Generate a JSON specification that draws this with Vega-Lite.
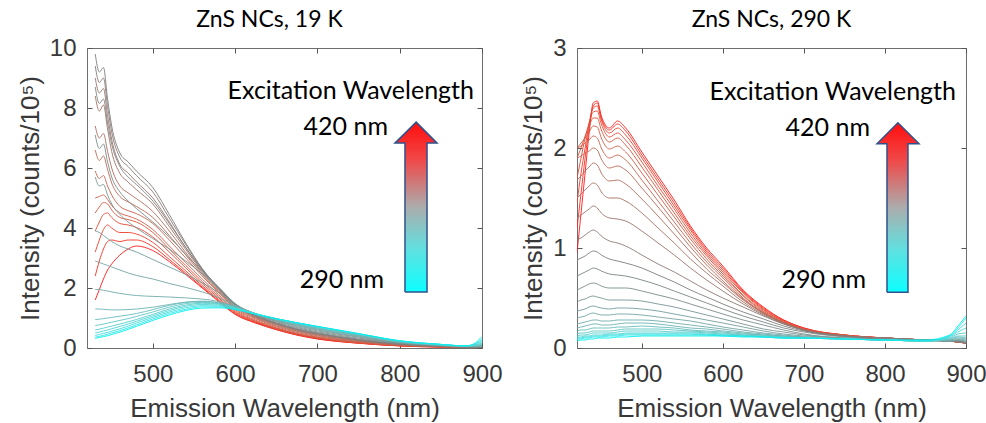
{
  "$schema": "https://vega.github.io/schema/vega-lite/v6.json",
  "background": "white",
  "padding": {"left": 16, "top": 8, "right": 0, "bottom": 0},
  "autosize": {"type": "pad"},
  "spacing": 17,
  "config": {
    "view": {"stroke": "#6e6e6e", "strokeWidth": 1},
    "axis": {
      "labelFont": "Liberation Sans", "labelFontSize": 24, "labelColor": "#383838",
      "titleFont": "Liberation Sans", "titleFontSize": 26, "titleColor": "#383838", "titleFontWeight": "normal",
      "domain": false, "grid": false, "tickColor": "#555555", "tickSize": -5,
      "labelFlush": false, "labelOverlap": false
    },
    "axisX": {"labelPadding": 19, "titlePadding": 9},
    "axisY": {"labelPadding": 16, "titlePadding": 6},
    "title": {"font": "Lato", "fontSize": 23, "fontWeight": "normal", "color": "#000000", "offset": 4}
  },
  "datasets": {
    "cold": [
      {"ex":420,"w":[430,435,440,445,450,460,470,480,500,520,540,560,580,600,625,650,675,700,750,800,850,880,890,900],"y":[1.6,1.95,2.3,2.6,2.8,3.1,3.3,3.4,3.25,2.88,2.45,2.0,1.55,1.12,0.83,0.61,0.43,0.3,0.16,0.07,0.03,0.02,0.02,0.02]},
      {"ex":415,"w":[430,435,440,445,450,460,470,480,500,520,540,560,580,600,625,650,675,700,750,800,850,880,890,900],"y":[2.4,2.9,3.3,3.55,3.6,3.55,3.6,3.6,3.38,2.95,2.5,2.03,1.58,1.14,0.84,0.62,0.44,0.31,0.16,0.07,0.03,0.02,0.02,0.02]},
      {"ex":410,"w":[430,435,440,445,450,460,470,480,500,520,540,560,580,600,625,650,675,700,750,800,850,880,890,900],"y":[3.2,3.6,3.95,4.1,4.0,3.85,3.85,3.8,3.52,3.05,2.57,2.08,1.62,1.17,0.86,0.63,0.45,0.32,0.17,0.08,0.04,0.02,0.02,0.02]},
      {"ex":405,"w":[430,435,440,445,450,460,470,480,500,520,540,560,580,600,625,650,675,700,750,800,850,880,890,900],"y":[3.9,4.2,4.45,4.5,4.35,4.15,4.1,4.02,3.7,3.2,2.67,2.15,1.67,1.2,0.88,0.64,0.46,0.33,0.17,0.08,0.04,0.03,0.02,0.02]},
      {"ex":400,"w":[430,435,440,445,450,460,470,480,500,520,540,560,580,600,625,650,675,700,750,800,850,880,890,900],"y":[4.5,4.7,4.85,4.8,4.6,4.35,4.28,4.2,3.85,3.3,2.75,2.22,1.72,1.24,0.9,0.66,0.47,0.34,0.18,0.08,0.04,0.03,0.02,0.02]},
      {"ex":395,"w":[430,435,440,445,450,460,470,480,500,520,540,560,580,600,625,650,675,700,750,800,850,880,890,900],"y":[5.0,5.05,5.1,4.95,4.75,4.5,4.4,4.3,3.95,3.4,2.85,2.3,1.78,1.28,0.93,0.68,0.49,0.36,0.19,0.09,0.04,0.03,0.02,0.02]},
      {"ex":390,"w":[430,435,440,445,450,460,470,480,500,520,540,560,580,600,625,650,675,700,750,800,850,880,890,900],"y":[5.9,5.65,5.75,5.4,5.1,4.72,4.58,4.48,4.15,3.6,3.0,2.4,1.84,1.32,0.97,0.71,0.52,0.38,0.21,0.1,0.05,0.03,0.02,0.02]},
      {"ex":385,"w":[430,435,440,445,450,460,470,480,500,520,540,560,580,600,625,650,675,700,750,800,850,880,890,900],"y":[6.6,6.25,6.4,5.95,5.5,5.05,4.87,4.72,4.35,3.75,3.1,2.45,1.88,1.36,1.0,0.74,0.55,0.41,0.22,0.1,0.05,0.03,0.03,0.02]},
      {"ex":380,"w":[430,435,440,445,450,460,470,480,500,520,540,560,580,600,625,650,675,700,750,800,850,880,890,900],"y":[7.4,7.0,7.15,6.55,6.0,5.4,5.17,4.98,4.55,3.9,3.18,2.5,1.92,1.39,1.02,0.77,0.57,0.43,0.24,0.11,0.05,0.03,0.03,0.02]},
      {"ex":375,"w":[430,435,440,445,450,460,470,480,500,520,540,560,580,600,625,650,675,700,750,800,850,880,890,900],"y":[8.4,7.9,8.1,7.3,6.55,5.82,5.53,5.28,4.8,4.05,3.28,2.55,1.95,1.42,1.04,0.79,0.59,0.45,0.25,0.12,0.05,0.03,0.03,0.03]},
      {"ex":370,"w":[430,435,440,445,450,460,470,480,500,520,540,560,580,600,625,650,675,700,750,800,850,880,890,900],"y":[9.0,8.5,8.65,7.75,6.95,6.12,5.83,5.54,5.0,4.2,3.35,2.6,1.98,1.44,1.06,0.81,0.61,0.47,0.26,0.12,0.06,0.04,0.03,0.03]},
      {"ex":365,"w":[430,435,440,445,450,460,470,480,500,520,540,560,580,600,625,650,675,700,750,800,850,880,890,900],"y":[9.4,8.85,9.0,8.05,7.2,6.35,6.05,5.75,5.2,4.33,3.45,2.63,2.0,1.46,1.08,0.83,0.63,0.49,0.28,0.13,0.06,0.04,0.04,0.03]},
      {"ex":360,"w":[430,435,440,445,450,460,470,480,500,520,540,560,580,600,625,650,675,700,750,800,850,880,890,900],"y":[9.8,9.2,9.35,8.3,7.4,6.5,6.2,5.9,5.35,4.45,3.5,2.65,2.0,1.46,1.07,0.82,0.62,0.48,0.27,0.13,0.06,0.04,0.03,0.03]},
      {"ex":355,"w":[430,435,440,445,450,460,470,480,500,520,540,560,580,600,625,650,675,700,750,800,850,880,890,900],"y":[8.7,8.15,8.3,7.5,6.8,6.05,5.7,5.45,4.9,4.15,3.35,2.6,2.02,1.47,1.1,0.85,0.65,0.51,0.3,0.15,0.07,0.04,0.04,0.04]},
      {"ex":350,"w":[430,435,440,445,450,460,470,480,500,520,540,560,580,600,625,650,675,700,750,800,850,880,890,900],"y":[7.1,6.65,6.8,6.2,5.7,5.2,4.9,4.65,4.2,3.7,3.12,2.55,2.03,1.48,1.12,0.88,0.68,0.54,0.33,0.16,0.08,0.05,0.04,0.04]},
      {"ex":345,"w":[430,435,440,445,450,460,470,480,500,520,540,560,580,600,625,650,675,700,750,800,850,880,890,900],"y":[5.7,5.4,5.45,5.1,4.8,4.45,4.2,4.0,3.65,3.3,2.9,2.47,2.0,1.47,1.13,0.9,0.71,0.57,0.36,0.17,0.08,0.05,0.04,0.05]},
      {"ex":340,"w":[430,435,440,445,450,460,470,480,500,520,540,560,580,600,625,650,675,700,750,800,850,880,890,900],"y":[3.9,3.85,3.75,3.65,3.55,3.4,3.3,3.2,2.95,2.7,2.45,2.17,1.85,1.45,1.14,0.92,0.74,0.6,0.38,0.18,0.09,0.05,0.05,0.05]},
      {"ex":335,"w":[430,435,440,445,450,460,470,480,500,520,540,560,580,600,625,650,675,700,750,800,850,880,890,900],"y":[2.9,2.85,2.8,2.75,2.7,2.6,2.5,2.42,2.3,2.15,2.02,1.87,1.68,1.42,1.14,0.93,0.76,0.62,0.4,0.19,0.09,0.05,0.05,0.06]},
      {"ex":330,"w":[430,435,440,445,450,460,470,480,500,520,540,560,580,600,625,650,675,700,750,800,850,880,890,900],"y":[1.95,1.95,1.92,1.9,1.87,1.82,1.78,1.75,1.72,1.7,1.67,1.63,1.55,1.39,1.14,0.94,0.78,0.64,0.42,0.2,0.1,0.06,0.05,0.07]},
      {"ex":325,"w":[430,435,440,445,450,460,470,480,500,520,540,560,580,600,625,650,675,700,750,800,850,880,890,900],"y":[1.3,1.3,1.29,1.28,1.27,1.27,1.28,1.3,1.36,1.45,1.53,1.56,1.51,1.37,1.14,0.95,0.8,0.66,0.43,0.21,0.1,0.06,0.06,0.08]},
      {"ex":320,"w":[430,435,440,445,450,460,470,480,500,520,540,560,580,600,625,650,675,700,750,800,850,880,890,900],"y":[0.95,0.96,0.98,1.0,1.02,1.06,1.1,1.15,1.28,1.42,1.52,1.55,1.5,1.36,1.14,0.96,0.81,0.67,0.44,0.21,0.1,0.06,0.07,0.1]},
      {"ex":315,"w":[430,435,440,445,450,460,470,480,500,520,540,560,580,600,625,650,675,700,750,800,850,880,890,900],"y":[0.75,0.77,0.8,0.83,0.86,0.92,0.98,1.05,1.2,1.36,1.48,1.52,1.48,1.35,1.14,0.97,0.82,0.69,0.45,0.22,0.11,0.06,0.08,0.12]},
      {"ex":310,"w":[430,435,440,445,450,460,470,480,500,520,540,560,580,600,625,650,675,700,750,800,850,880,890,900],"y":[0.6,0.63,0.66,0.7,0.73,0.8,0.87,0.95,1.12,1.3,1.43,1.49,1.46,1.34,1.14,0.97,0.83,0.7,0.46,0.23,0.11,0.07,0.09,0.16]},
      {"ex":305,"w":[430,435,440,445,450,460,470,480,500,520,540,560,580,600,625,650,675,700,750,800,850,880,890,900],"y":[0.5,0.53,0.57,0.6,0.64,0.72,0.8,0.89,1.07,1.25,1.39,1.45,1.43,1.33,1.14,0.98,0.84,0.71,0.47,0.23,0.12,0.07,0.1,0.2]},
      {"ex":300,"w":[430,435,440,445,450,460,470,480,500,520,540,560,580,600,625,650,675,700,750,800,850,880,890,900],"y":[0.42,0.45,0.49,0.52,0.56,0.64,0.73,0.83,1.02,1.2,1.34,1.41,1.4,1.31,1.14,0.98,0.84,0.71,0.47,0.24,0.12,0.07,0.11,0.25]},
      {"ex":295,"w":[430,435,440,445,450,460,470,480,500,520,540,560,580,600,625,650,675,700,750,800,850,880,890,900],"y":[0.36,0.39,0.42,0.46,0.5,0.58,0.67,0.77,0.97,1.15,1.29,1.37,1.37,1.3,1.13,0.98,0.84,0.72,0.48,0.24,0.12,0.07,0.12,0.3]},
      {"ex":290,"w":[430,435,440,445,450,460,470,480,500,520,540,560,580,600,625,650,675,700,750,800,850,880,890,900],"y":[0.32,0.35,0.38,0.41,0.45,0.53,0.62,0.72,0.92,1.1,1.25,1.33,1.34,1.28,1.12,0.97,0.84,0.72,0.48,0.24,0.12,0.07,0.14,0.38]}
    ],
    "warm": [
      {"ex":420,"w":[420,425,430,435,440,445,450,460,470,480,500,520,540,560,580,600,625,650,675,700,750,800,850,880,890,900],"y":[0.95,1.35,1.75,2.15,2.45,2.47,2.32,2.2,2.27,2.2,1.96,1.72,1.48,1.22,1.0,0.82,0.58,0.41,0.28,0.2,0.13,0.1,0.08,0.07,0.06,0.05]},
      {"ex":415,"w":[420,425,430,435,440,445,450,460,470,480,500,520,540,560,580,600,625,650,675,700,750,800,850,880,890,900],"y":[1.2,1.55,1.9,2.2,2.42,2.45,2.3,2.18,2.24,2.17,1.93,1.69,1.45,1.2,0.98,0.8,0.57,0.4,0.28,0.2,0.13,0.1,0.08,0.07,0.06,0.05]},
      {"ex":410,"w":[420,425,430,435,440,445,450,460,470,480,500,520,540,560,580,600,625,650,675,700,750,800,850,880,890,900],"y":[1.45,1.75,2.0,2.25,2.4,2.42,2.28,2.15,2.2,2.13,1.9,1.66,1.42,1.18,0.96,0.78,0.56,0.39,0.27,0.19,0.13,0.1,0.08,0.07,0.06,0.05]},
      {"ex":405,"w":[420,425,430,435,440,445,450,460,470,480,500,520,540,560,580,600,625,650,675,700,750,800,850,880,890,900],"y":[1.7,1.9,2.1,2.25,2.36,2.37,2.24,2.11,2.15,2.08,1.86,1.62,1.39,1.15,0.94,0.76,0.55,0.38,0.27,0.19,0.13,0.1,0.08,0.07,0.06,0.05]},
      {"ex":400,"w":[420,425,430,435,440,445,450,460,470,480,500,520,540,560,580,600,625,650,675,700,750,800,850,880,890,900],"y":[1.9,2.0,2.12,2.22,2.3,2.3,2.18,2.06,2.1,2.03,1.81,1.58,1.35,1.12,0.92,0.74,0.53,0.37,0.26,0.19,0.13,0.1,0.08,0.07,0.06,0.05]},
      {"ex":395,"w":[420,425,430,435,440,445,450,460,470,480,500,520,540,560,580,600,625,650,675,700,750,800,850,880,890,900],"y":[2.0,2.05,2.1,2.16,2.22,2.21,2.1,1.99,2.02,1.96,1.75,1.53,1.31,1.09,0.89,0.72,0.52,0.36,0.26,0.18,0.12,0.1,0.08,0.07,0.06,0.05]},
      {"ex":390,"w":[420,425,430,435,440,445,450,460,470,480,500,520,540,560,580,600,625,650,675,700,750,800,850,880,890,900],"y":[2.0,2.02,2.05,2.08,2.12,2.1,2.0,1.9,1.93,1.88,1.68,1.47,1.26,1.05,0.86,0.7,0.5,0.35,0.25,0.18,0.12,0.1,0.08,0.07,0.06,0.05]},
      {"ex":385,"w":[420,425,430,435,440,445,450,460,470,480,500,520,540,560,580,600,625,650,675,700,750,800,850,880,890,900],"y":[1.9,1.92,1.95,1.97,2.0,1.98,1.89,1.8,1.82,1.78,1.6,1.41,1.21,1.01,0.83,0.67,0.49,0.35,0.25,0.18,0.12,0.1,0.08,0.07,0.06,0.05]},
      {"ex":380,"w":[420,425,430,435,440,445,450,460,470,480,500,520,540,560,580,600,625,650,675,700,750,800,850,880,890,900],"y":[1.68,1.72,1.77,1.81,1.85,1.83,1.75,1.67,1.68,1.64,1.49,1.32,1.14,0.96,0.79,0.65,0.48,0.35,0.25,0.18,0.12,0.1,0.08,0.07,0.06,0.05]},
      {"ex":375,"w":[420,425,430,435,440,445,450,460,470,480,500,520,540,560,580,600,625,650,675,700,750,800,850,880,890,900],"y":[1.5,1.54,1.58,1.62,1.65,1.63,1.56,1.5,1.5,1.47,1.35,1.2,1.05,0.89,0.75,0.62,0.46,0.34,0.25,0.18,0.12,0.1,0.08,0.07,0.06,0.05]},
      {"ex":370,"w":[420,425,430,435,440,445,450,460,470,480,500,520,540,560,580,600,625,650,675,700,750,800,850,880,890,900],"y":[1.3,1.33,1.36,1.39,1.42,1.4,1.35,1.3,1.29,1.27,1.17,1.05,0.93,0.8,0.68,0.57,0.44,0.33,0.24,0.18,0.12,0.1,0.08,0.07,0.06,0.05]},
      {"ex":365,"w":[420,425,430,435,440,445,450,460,470,480,500,520,540,560,580,600,625,650,675,700,750,800,850,880,890,900],"y":[1.08,1.1,1.13,1.16,1.18,1.16,1.12,1.07,1.05,1.02,0.93,0.84,0.76,0.67,0.58,0.5,0.41,0.32,0.24,0.18,0.12,0.1,0.08,0.07,0.07,0.05]},
      {"ex":360,"w":[420,425,430,435,440,445,450,460,470,480,500,520,540,560,580,600,625,650,675,700,750,800,850,880,890,900],"y":[0.88,0.9,0.92,0.95,0.97,0.96,0.93,0.89,0.87,0.85,0.8,0.73,0.66,0.58,0.51,0.44,0.36,0.29,0.22,0.17,0.12,0.09,0.08,0.07,0.07,0.05]},
      {"ex":355,"w":[420,425,430,435,440,445,450,460,470,480,500,520,540,560,580,600,625,650,675,700,750,800,850,880,890,900],"y":[0.72,0.74,0.76,0.78,0.8,0.79,0.77,0.74,0.73,0.72,0.68,0.63,0.57,0.51,0.45,0.39,0.32,0.26,0.2,0.16,0.11,0.09,0.08,0.07,0.07,0.05]},
      {"ex":350,"w":[420,425,430,435,440,445,450,460,470,480,500,520,540,560,580,600,625,650,675,700,750,800,850,880,890,900],"y":[0.58,0.6,0.62,0.64,0.65,0.64,0.62,0.6,0.6,0.6,0.57,0.53,0.49,0.44,0.39,0.34,0.28,0.23,0.18,0.14,0.1,0.09,0.08,0.07,0.07,0.05]},
      {"ex":345,"w":[420,425,430,435,440,445,450,460,470,480,500,520,540,560,580,600,625,650,675,700,750,800,850,880,890,900],"y":[0.46,0.48,0.49,0.51,0.52,0.51,0.5,0.48,0.48,0.48,0.47,0.44,0.41,0.37,0.33,0.29,0.24,0.19,0.16,0.13,0.1,0.08,0.08,0.07,0.08,0.06]},
      {"ex":340,"w":[420,425,430,435,440,445,450,460,470,480,500,520,540,560,580,600,625,650,675,700,750,800,850,880,890,900],"y":[0.37,0.38,0.39,0.41,0.42,0.41,0.4,0.39,0.4,0.4,0.39,0.37,0.34,0.31,0.28,0.25,0.21,0.17,0.14,0.12,0.1,0.08,0.08,0.07,0.08,0.06]},
      {"ex":335,"w":[420,425,430,435,440,445,450,460,470,480,500,520,540,560,580,600,625,650,675,700,750,800,850,880,890,900],"y":[0.3,0.31,0.32,0.34,0.35,0.34,0.33,0.33,0.34,0.34,0.33,0.31,0.29,0.27,0.24,0.21,0.18,0.15,0.13,0.11,0.09,0.08,0.07,0.07,0.08,0.07]},
      {"ex":330,"w":[420,425,430,435,440,445,450,460,470,480,500,520,540,560,580,600,625,650,675,700,750,800,850,880,890,900],"y":[0.24,0.25,0.26,0.27,0.28,0.28,0.27,0.27,0.28,0.28,0.28,0.27,0.25,0.23,0.21,0.19,0.16,0.14,0.12,0.11,0.09,0.08,0.07,0.08,0.09,0.08]},
      {"ex":325,"w":[420,425,430,435,440,445,450,460,470,480,500,520,540,560,580,600,625,650,675,700,750,800,850,880,890,900],"y":[0.2,0.21,0.22,0.23,0.24,0.24,0.23,0.23,0.24,0.25,0.25,0.24,0.22,0.2,0.19,0.17,0.15,0.13,0.12,0.1,0.09,0.08,0.07,0.08,0.1,0.09]},
      {"ex":320,"w":[420,425,430,435,440,445,450,460,470,480,500,520,540,560,580,600,625,650,675,700,750,800,850,880,890,900],"y":[0.17,0.18,0.18,0.19,0.2,0.2,0.2,0.2,0.21,0.21,0.22,0.21,0.2,0.18,0.17,0.16,0.14,0.13,0.11,0.1,0.09,0.08,0.07,0.09,0.11,0.1]},
      {"ex":315,"w":[420,425,430,435,440,445,450,460,470,480,500,520,540,560,580,600,625,650,675,700,750,800,850,880,890,900],"y":[0.14,0.15,0.15,0.16,0.17,0.17,0.17,0.17,0.18,0.19,0.19,0.19,0.18,0.17,0.16,0.15,0.13,0.12,0.11,0.1,0.09,0.08,0.07,0.09,0.12,0.12]},
      {"ex":310,"w":[420,425,430,435,440,445,450,460,470,480,500,520,540,560,580,600,625,650,675,700,750,800,850,880,890,900],"y":[0.12,0.13,0.13,0.14,0.15,0.15,0.15,0.15,0.16,0.17,0.17,0.17,0.16,0.16,0.15,0.14,0.13,0.12,0.11,0.1,0.09,0.08,0.07,0.1,0.14,0.15]},
      {"ex":305,"w":[420,425,430,435,440,445,450,460,470,480,500,520,540,560,580,600,625,650,675,700,750,800,850,880,890,900],"y":[0.11,0.11,0.12,0.12,0.13,0.13,0.13,0.14,0.14,0.15,0.15,0.15,0.15,0.15,0.14,0.13,0.12,0.11,0.1,0.1,0.09,0.08,0.07,0.11,0.16,0.2]},
      {"ex":300,"w":[420,425,430,435,440,445,450,460,470,480,500,520,540,560,580,600,625,650,675,700,750,800,850,880,890,900],"y":[0.1,0.1,0.11,0.11,0.12,0.12,0.12,0.13,0.13,0.14,0.14,0.14,0.14,0.14,0.13,0.13,0.12,0.11,0.1,0.1,0.09,0.08,0.07,0.12,0.18,0.25]},
      {"ex":295,"w":[420,425,430,435,440,445,450,460,470,480,500,520,540,560,580,600,625,650,675,700,750,800,850,880,890,900],"y":[0.09,0.09,0.1,0.1,0.11,0.11,0.11,0.12,0.12,0.13,0.13,0.13,0.13,0.13,0.13,0.12,0.12,0.11,0.1,0.1,0.09,0.08,0.07,0.12,0.2,0.3]},
      {"ex":290,"w":[420,425,430,435,440,445,450,460,470,480,500,520,540,560,580,600,625,650,675,700,750,800,850,880,890,900],"y":[0.07,0.08,0.08,0.09,0.09,0.1,0.1,0.1,0.11,0.11,0.12,0.12,0.12,0.12,0.12,0.12,0.11,0.11,0.1,0.1,0.09,0.08,0.08,0.13,0.22,0.32]}
    ],
    "arrowL": [
      {"o":0,"x":806.4,"y":1.87},{"o":1,"x":806.4,"y":6.83},{"o":2,"x":794.3,"y":6.83},{"o":3,"x":820,"y":7.53},
      {"o":4,"x":845.3,"y":6.83},{"o":5,"x":833.2,"y":6.83},{"o":6,"x":833.2,"y":1.87},{"o":7,"x":806.4,"y":1.87}
    ],
    "arrowR": [
      {"o":0,"x":802.5,"y":0.558},{"o":1,"x":802.5,"y":2.043},{"o":2,"x":790.2,"y":2.043},{"o":3,"x":816,"y":2.253},
      {"o":4,"x":842,"y":2.043},{"o":5,"x":828.4,"y":2.043},{"o":6,"x":828.4,"y":0.558},{"o":7,"x":802.5,"y":0.558}
    ],
    "textL": [
      {"x":890.3,"y":8.3,"t":"Excitation Wavelength"},
      {"x":785.8,"y":7.1,"t":"420 nm"},
      {"x":781,"y":2.0,"t":"290 nm"}
    ],
    "textR": [
      {"x":887.7,"y":2.48,"t":"Excitation Wavelength"},
      {"x":781.5,"y":2.123,"t":"420 nm"},
      {"x":776.6,"y":0.598,"t":"290 nm"}
    ]
  },
  "hconcat": [
    {
      "width": 395, "height": 300,
      "title": {"text": "ZnS NCs, 19 K", "dx": -15},
      "layer": [
        {
          "data": {"name": "cold"},
          "transform": [{"flatten": ["w", "y"]}],
          "mark": {"type": "line", "strokeWidth": 1, "opacity": 0.9, "interpolate": "monotone", "clip": true},
          "encoding": {
            "x": {"field": "w", "type": "quantitative", "scale": {"domain": [420, 900], "nice": false, "zero": false},
                  "axis": {"orient": "bottom", "values": [500, 600, 700, 800, 900], "title": "Emission Wavelength (nm)"}},
            "y": {"field": "y", "type": "quantitative", "scale": {"domain": [0, 10], "nice": false},
                  "axis": {"orient": "left", "values": [0, 2, 4, 6, 8, 10], "title": "Intensity (counts/10⁵)"}},
            "color": {"field": "ex", "type": "quantitative", "scale": {"domain": [290, 360, 420], "range": ["#00eeee", "#7d7d7d", "#ff1a1a"]}, "legend": null},
            "detail": {"field": "ex", "type": "nominal"}
          }
        },
        {
          "data": {"name": "arrowL"},
          "mark": {"type": "line", "stroke": "#2f528f", "strokeWidth": 1.5,
                   "fill": {"gradient": "linear", "x1": 0, "y1": 0, "x2": 0, "y2": 1,
                            "stops": [{"offset": 0, "color": "#ff0d0d"}, {"offset": 0.22, "color": "#f04848"}, {"offset": 0.5, "color": "#acacac"}, {"offset": 0.75, "color": "#60e0e0"}, {"offset": 1, "color": "#0dffff"}]}},
          "encoding": {
            "x": {"field": "x", "type": "quantitative", "axis": {"orient": "top", "values": [500, 600, 700, 800, 900], "labels": false, "title": null}},
            "y": {"field": "y", "type": "quantitative", "axis": {"orient": "right", "values": [0, 2, 4, 6, 8, 10], "labels": false, "title": null}},
            "order": {"field": "o", "type": "quantitative"}
          }
        },
        {
          "data": {"name": "textL"},
          "mark": {"type": "text", "align": "right", "baseline": "alphabetic", "font": "Lato", "fontSize": 25, "color": "#000000"},
          "encoding": {
            "x": {"field": "x", "type": "quantitative", "axis": null},
            "y": {"field": "y", "type": "quantitative", "axis": null},
            "text": {"field": "t"}
          }
        }
      ],
      "resolve": {"axis": {"x": "independent", "y": "independent"}}
    },
    {
      "width": 389, "height": 300,
      "title": {"text": "ZnS NCs, 290 K"},
      "layer": [
        {
          "data": {"name": "warm"},
          "transform": [{"flatten": ["w", "y"]}],
          "mark": {"type": "line", "strokeWidth": 1, "opacity": 0.9, "interpolate": "monotone", "clip": true},
          "encoding": {
            "x": {"field": "w", "type": "quantitative", "scale": {"domain": [420, 900], "nice": false, "zero": false},
                  "axis": {"orient": "bottom", "values": [500, 600, 700, 800, 900], "title": "Emission Wavelength (nm)"}},
            "y": {"field": "y", "type": "quantitative", "scale": {"domain": [0, 3], "nice": false},
                  "axis": {"orient": "left", "values": [0, 1, 2, 3], "title": "Intensity (counts/10⁵)"}},
            "color": {"field": "ex", "type": "quantitative", "scale": {"domain": [290, 360, 420], "range": ["#00eeee", "#7d7d7d", "#ff1a1a"]}, "legend": null},
            "detail": {"field": "ex", "type": "nominal"}
          }
        },
        {
          "data": {"name": "arrowR"},
          "mark": {"type": "line", "stroke": "#2f528f", "strokeWidth": 1.5,
                   "fill": {"gradient": "linear", "x1": 0, "y1": 0, "x2": 0, "y2": 1,
                            "stops": [{"offset": 0, "color": "#ff0d0d"}, {"offset": 0.22, "color": "#f04848"}, {"offset": 0.5, "color": "#acacac"}, {"offset": 0.75, "color": "#60e0e0"}, {"offset": 1, "color": "#0dffff"}]}},
          "encoding": {
            "x": {"field": "x", "type": "quantitative", "axis": {"orient": "top", "values": [500, 600, 700, 800, 900], "labels": false, "title": null}},
            "y": {"field": "y", "type": "quantitative", "axis": {"orient": "right", "values": [0, 1, 2, 3], "labels": false, "title": null}},
            "order": {"field": "o", "type": "quantitative"}
          }
        },
        {
          "data": {"name": "textR"},
          "mark": {"type": "text", "align": "right", "baseline": "alphabetic", "font": "Lato", "fontSize": 25, "color": "#000000"},
          "encoding": {
            "x": {"field": "x", "type": "quantitative", "axis": null},
            "y": {"field": "y", "type": "quantitative", "axis": null},
            "text": {"field": "t"}
          }
        }
      ],
      "resolve": {"axis": {"x": "independent", "y": "independent"}}
    }
  ]
}
